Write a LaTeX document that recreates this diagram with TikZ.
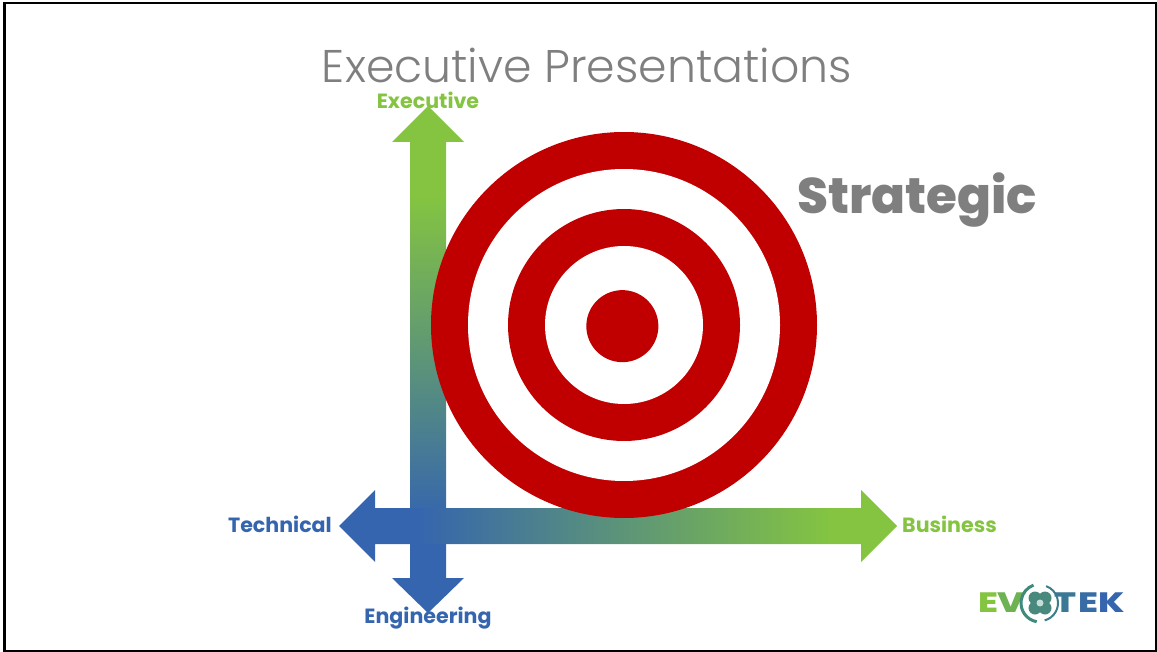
\documentclass[tikz,border=0pt]{standalone}
\usepackage{fontspec}
\usepackage{xcolor}
\usetikzlibrary{positioning}
\setmainfont{Poppins}
\newfontfamily\titlefont{Poppins Light}
\newfontfamily\heavyfont{Poppins ExtraBold}

\definecolor{evgreen}{HTML}{84C441}
\definecolor{evblue}{HTML}{3565AE}
\definecolor{evteal}{HTML}{3F8A7C}
\definecolor{targetred}{HTML}{C00000}
\definecolor{evgray}{HTML}{7F7F7F}

\pgfdeclareverticalshading{upgrad}{100bp}{color(0bp)=(evblue); color(34bp)=(evblue); color(66bp)=(evgreen); color(100bp)=(evgreen)}
\pgfdeclarehorizontalshading{acrossgrad}{100bp}{color(0bp)=(evblue); color(32bp)=(evblue); color(69bp)=(evgreen); color(100bp)=(evgreen)}

\begin{document}
\begin{tikzpicture}[
    x=1pt, y=-1pt,
    axislabel/.style={font=\bfseries\fontsize{20.6}{20.6}\selectfont, inner sep=0pt},
    ring/.style={circle, fill=targetred, inner sep=0pt},
    hole/.style={circle, fill=white, inner sep=0pt},
    logoletter/.style={font=\heavyfont\fontsize{28}{28}\selectfont, inner sep=0pt, transform shape, xscale=1.3}
]
\useasboundingbox (0,0) rectangle (1157,652);

% Frame
\draw[line width=2.5pt] (4.5,3) rectangle (1156,651);

% Title
\node[font=\titlefont\fontsize{45.8}{45.8}\selectfont, text=evgray, inner sep=0pt] (title) at (587,65) {Executive Presentations};

% Axes
\shade[shading=upgrad] (428,106) -- (464,142) -- (446,142) -- (446,578) -- (464,578) -- (428,613) -- (392,578) -- (410,578) -- (410,142) -- (392,142) -- cycle;
\shade[shading=acrossgrad] (339,526) -- (375,490) -- (375,508) -- (861,508) -- (861,490) -- (897,526) -- (861,562) -- (861,544) -- (375,544) -- (375,562) -- cycle;

% Target
\node[ring, minimum size=386pt] (outer) at (624,325) {};
\node[hole, minimum size=312pt] (outerhole) at (outer) {};
\node[ring, minimum size=232pt] (inner) at (outer) {};
\node[hole, minimum size=158pt] (innerhole) at (outer) {};
\fill[targetred] plot[domain=0:356, samples=90] ({621.5+(36+1.2*cos(\x+45))*cos(\x)},{327+(36+1.2*cos(\x+45))*sin(\x)}) -- cycle;

% Labels
\node[axislabel, text=evgreen] (executive) at (428,100) {Executive};
\node[axislabel, text=evblue] (engineering) at (428,618) {Engineering};
\node[axislabel, text=evblue, anchor=east] (technical) at (332,524) {Technical};
\node[axislabel, text=evgreen, anchor=west] (business) at (902,524) {Business};
\node[font=\heavyfont\fontsize{50}{50}\selectfont, text=evgray, inner sep=0pt] (strategic) at (917,200) {Strategic};

% Logo
\node[logoletter, text=evgreen] (logoe) at (988,603) {E};
\node[logoletter, text=evgreen!70!evteal] (logov) at (1011,603) {V};
\coordinate (logoc) at (1040,603);
\draw[evteal, line width=3pt] ([shift={(260:19pt)}]logoc) arc (260:110:19pt);
\draw[evteal!70!evblue, line width=2pt] ([shift={(-75:18pt)}]logoc) arc (-75:70:18pt);
\foreach \dx/\dy in {-5/-5, 5/-5, -5/5, 5/5}
    \fill[evteal!85!gray] (1040+\dx,603+\dy) circle (6.5pt);
\fill[white!70!evteal] (logoc) circle (3.5pt);
\node[logoletter, text=evteal!50!evblue] (logot) at (1065,603) {T};
\node[logoletter, text=evblue!80!evteal] (logok) at (1088,603) {E};
\node[logoletter, text=evblue] (logoz) at (1112,603) {K};
\end{tikzpicture}
\end{document}
